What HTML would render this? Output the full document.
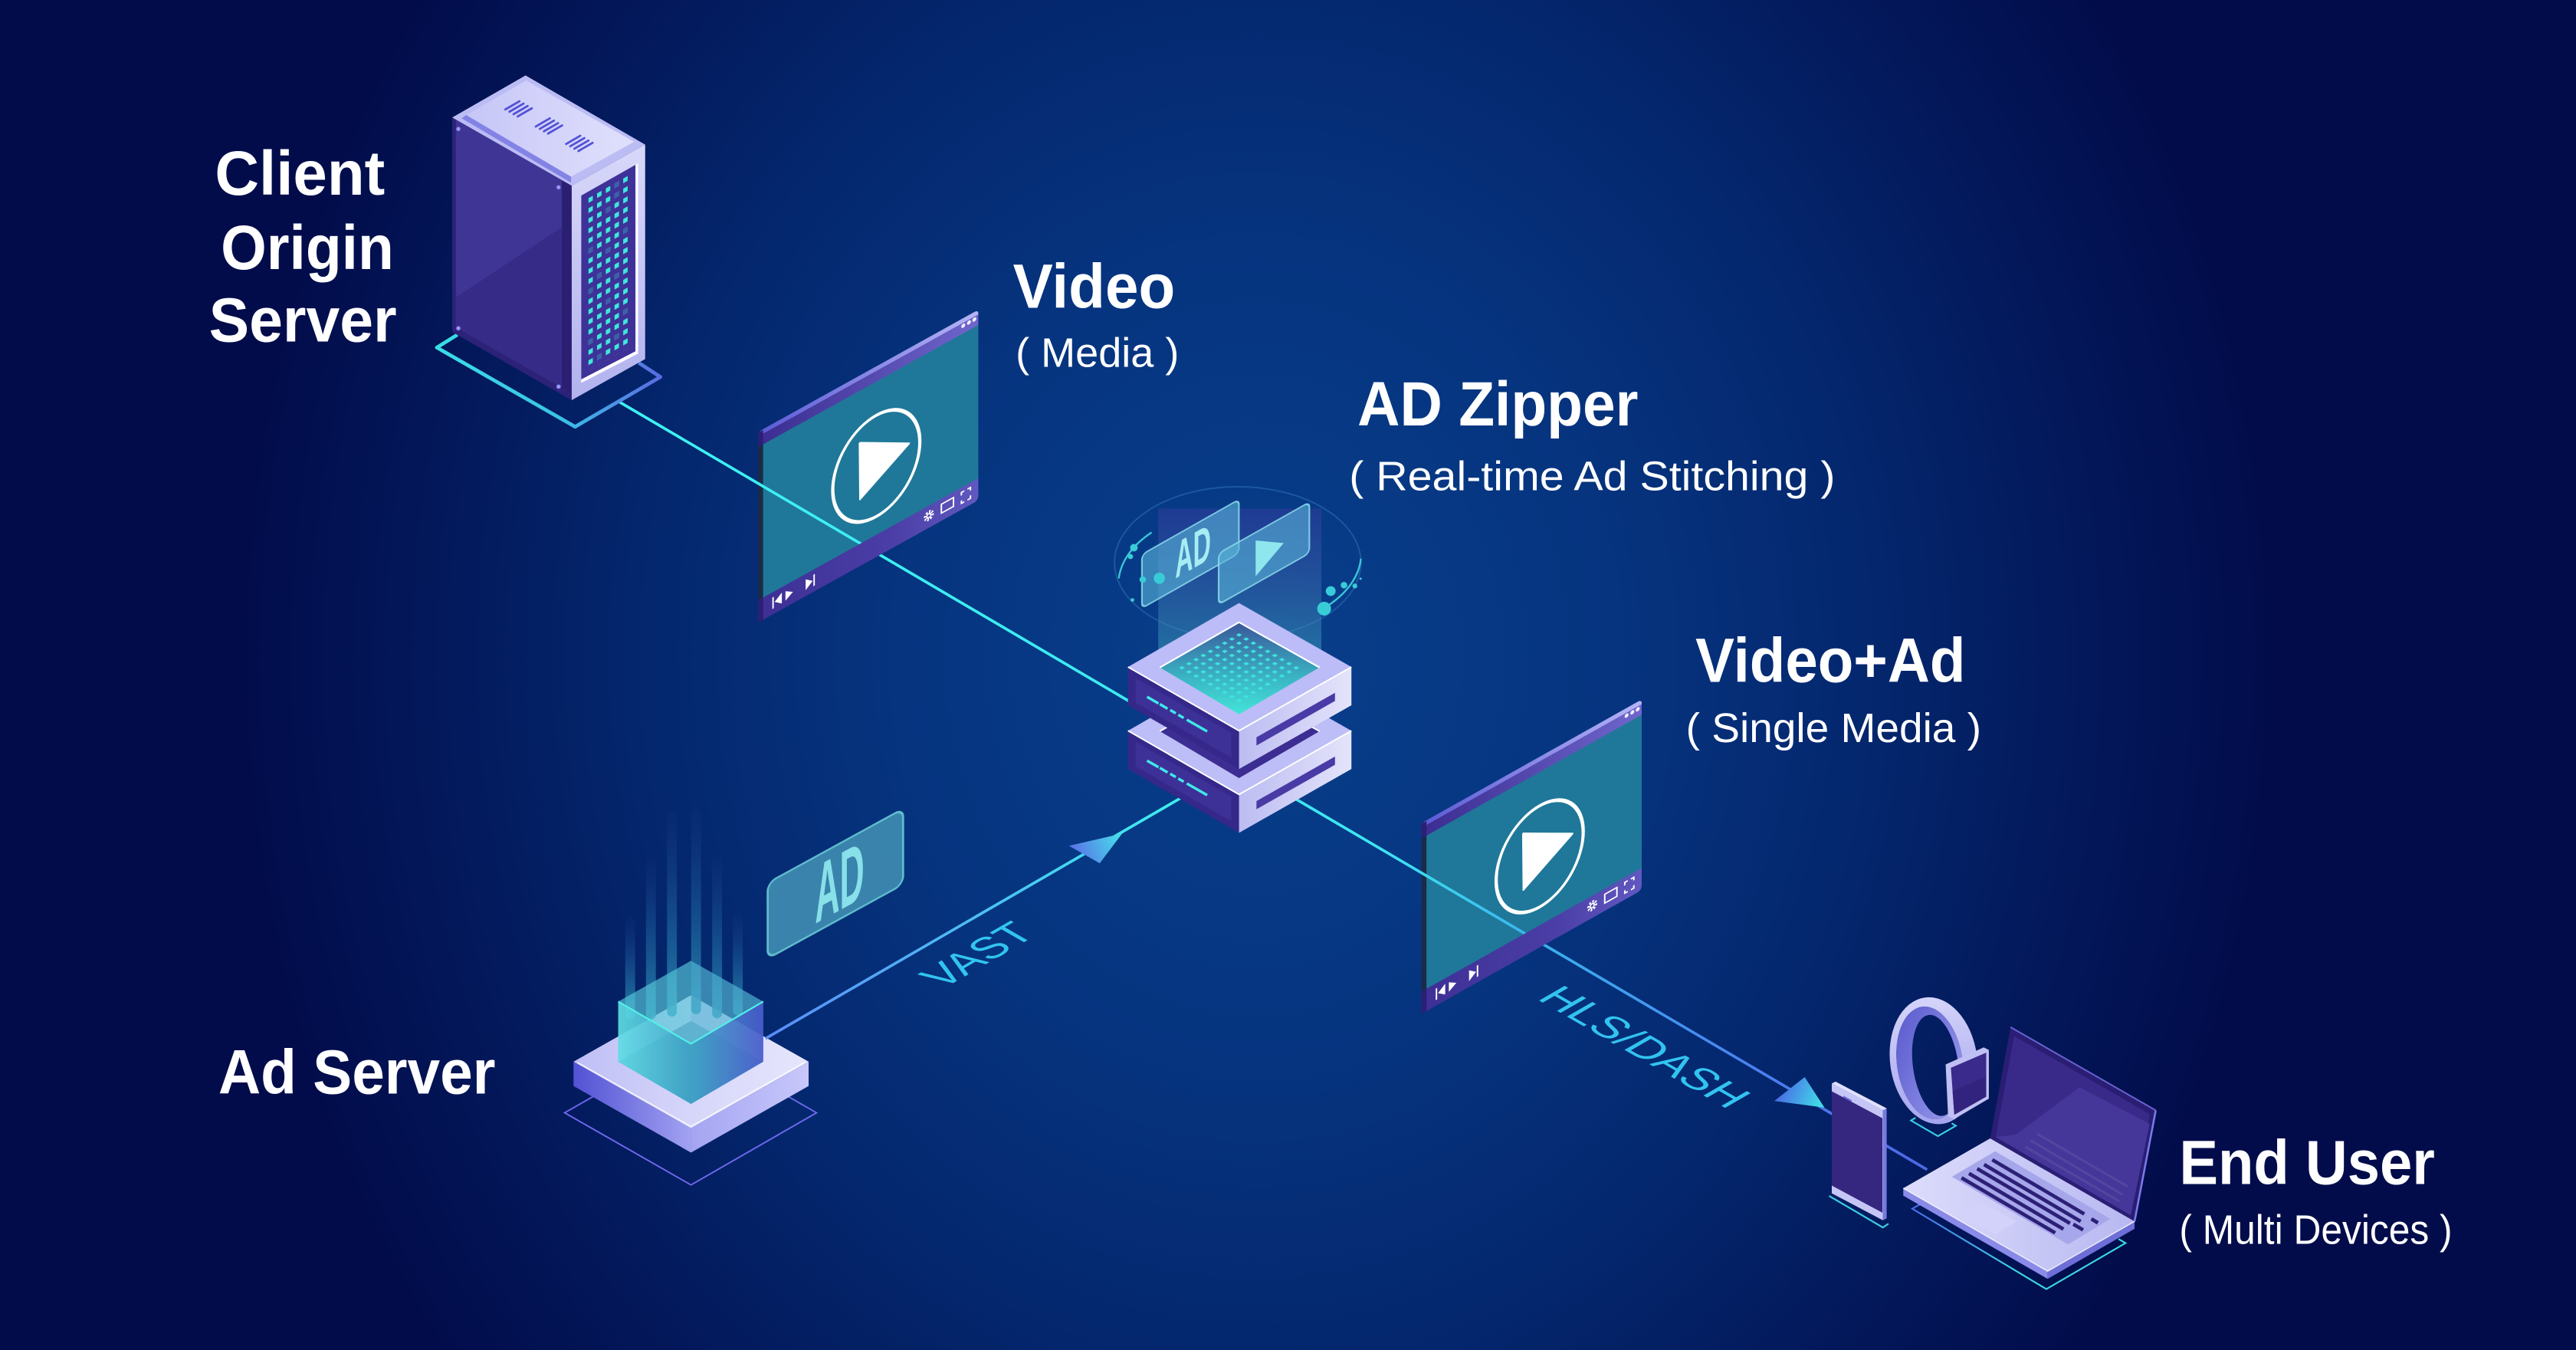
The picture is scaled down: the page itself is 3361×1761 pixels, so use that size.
<!DOCTYPE html>
<html><head><meta charset="utf-8">
<style>
html,body{margin:0;padding:0;background:#020b4a;overflow:hidden;}
svg{display:block;}
text{font-family:"Liberation Sans",Arial,sans-serif;}
</style></head><body>
<svg width="3361" height="1761" viewBox="0 0 1568 821.56" preserveAspectRatio="none" xmlns="http://www.w3.org/2000/svg">
<defs>
 <radialGradient id="bg" gradientUnits="userSpaceOnUse" cx="765" cy="400" r="620" gradientTransform="translate(765 400) scale(1 1.15) translate(-765 -400)">
  <stop offset="0" stop-color="#083f8b"/>
  <stop offset="0.35" stop-color="#06347f"/>
  <stop offset="0.6" stop-color="#04276e"/>
  <stop offset="0.8" stop-color="#03195b"/>
  <stop offset="1" stop-color="#020c4b"/>
 </radialGradient>
 <linearGradient id="l1" gradientUnits="userSpaceOnUse" x1="376" y1="244" x2="1175" y2="713">
  <stop offset="0" stop-color="#3ef2f2"/>
  <stop offset="0.58" stop-color="#3ee6f2"/>
  <stop offset="0.7" stop-color="#3ab2ee"/>
  <stop offset="0.86" stop-color="#4a82f0"/>
  <stop offset="1" stop-color="#4f66e6"/>
 </linearGradient>
 <linearGradient id="lv" gradientUnits="userSpaceOnUse" x1="466" y1="632" x2="718" y2="486">
  <stop offset="0" stop-color="#5a8cf8"/>
  <stop offset="1" stop-color="#3ef0f0"/>
 </linearGradient>
 <linearGradient id="av" gradientUnits="userSpaceOnUse" x1="652" y1="520" x2="683" y2="507">
  <stop offset="0" stop-color="#5a6ee8"/>
  <stop offset="1" stop-color="#45e4ea"/>
 </linearGradient>
 <linearGradient id="ah" gradientUnits="userSpaceOnUse" x1="1082" y1="663" x2="1110" y2="674">
  <stop offset="0" stop-color="#4a66e6"/>
  <stop offset="1" stop-color="#40e8e6"/>
 </linearGradient>
 <linearGradient id="tbar" x1="0" y1="0" x2="1" y2="0">
  <stop offset="0" stop-color="#3a2c90"/><stop offset="1" stop-color="#6f66cc"/>
 </linearGradient>
 <linearGradient id="tbarhi" x1="0" y1="0" x2="1" y2="0">
  <stop offset="0" stop-color="#5a5ad6"/><stop offset="1" stop-color="#b4b4f6"/>
 </linearGradient>
 <linearGradient id="bbar" x1="0" y1="0" x2="1" y2="0">
  <stop offset="0" stop-color="#3d2f94"/><stop offset="0.6" stop-color="#4a3ea6"/><stop offset="1" stop-color="#6058c0"/>
 </linearGradient>
 <linearGradient id="tob" x1="0" y1="0" x2="1" y2="0">
  <stop offset="0" stop-color="#3adde6"/><stop offset="0.55" stop-color="#3ac4e6"/><stop offset="1" stop-color="#5a6ae2"/>
 </linearGradient>
 <linearGradient id="ttop" x1="0" y1="0" x2="1" y2="0">
  <stop offset="0" stop-color="#c6c6f8"/><stop offset="1" stop-color="#e0e0fc"/>
 </linearGradient>
 <linearGradient id="trf" x1="0" y1="0" x2="0" y2="1">
  <stop offset="0" stop-color="#d8d8fa"/><stop offset="1" stop-color="#b2b2ee"/>
 </linearGradient>
 <linearGradient id="zr" x1="0" y1="0" x2="1" y2="0">
  <stop offset="0" stop-color="#bcbcf2"/><stop offset="1" stop-color="#e4e4fb"/>
 </linearGradient>
 <linearGradient id="zin" x1="0" y1="0" x2="0" y2="1">
  <stop offset="0" stop-color="#3a569a"/><stop offset="0.6" stop-color="#3ab4c4"/><stop offset="1" stop-color="#44e4d8"/>
 </linearGradient>
 <linearGradient id="col" x1="0" y1="0" x2="0" y2="1">
  <stop offset="0" stop-color="#4a3caa" stop-opacity="0.35"/>
  <stop offset="1" stop-color="#3ab8c0" stop-opacity="0.55"/>
 </linearGradient>
 <linearGradient id="pt" x1="0" y1="0" x2="1" y2="0">
  <stop offset="0" stop-color="#bebef6"/><stop offset="0.5" stop-color="#d6d6fa"/><stop offset="1" stop-color="#e6e6fd"/>
 </linearGradient>
 <linearGradient id="pl" x1="0" y1="0" x2="1" y2="0">
  <stop offset="0" stop-color="#5252d4"/><stop offset="1" stop-color="#a2a2f2"/>
 </linearGradient>
 <linearGradient id="pr" x1="0" y1="0" x2="1" y2="0">
  <stop offset="0" stop-color="#a4a4f2"/><stop offset="1" stop-color="#c8c8fb"/>
 </linearGradient>
 <linearGradient id="stk" x1="0" y1="0" x2="0" y2="1">
  <stop offset="0" stop-color="#1a3a8a" stop-opacity="0.1"/>
  <stop offset="0.45" stop-color="#1a5a98" stop-opacity="0.6"/>
  <stop offset="1" stop-color="#2a90b4" stop-opacity="0.9"/>
 </linearGradient>
 <linearGradient id="cl" x1="0" y1="0" x2="1" y2="0">
  <stop offset="0" stop-color="#60e0e6"/><stop offset="1" stop-color="#3aa0c4"/>
 </linearGradient>
 <linearGradient id="cr" x1="0" y1="0" x2="1" y2="0">
  <stop offset="0" stop-color="#3aa4c4"/><stop offset="1" stop-color="#4a58cc"/>
 </linearGradient>
 <linearGradient id="lbt" x1="0" y1="0" x2="1" y2="0">
  <stop offset="0" stop-color="#dcdcfb"/><stop offset="1" stop-color="#b8b8f2"/>
 </linearGradient>
 <linearGradient id="lob" x1="0" y1="0" x2="1" y2="0">
  <stop offset="0" stop-color="#4a6ae6"/><stop offset="0.5" stop-color="#3ad8e0"/><stop offset="1" stop-color="#3ad8e0"/>
 </linearGradient>
 <linearGradient id="wb" x1="0" y1="0" x2="0" y2="1">
  <stop offset="0" stop-color="#d4d4fa"/><stop offset="1" stop-color="#a4a4ee"/>
 </linearGradient>
 <linearGradient id="wi" x1="0" y1="0" x2="1" y2="1">
  <stop offset="0" stop-color="#5656cc"/><stop offset="1" stop-color="#a0a0f0"/>
 </linearGradient>
 <pattern id="sq" patternUnits="userSpaceOnUse" x="-1.35" y="-1.45" width="5.3" height="6.17">
  <rect width="2.7" height="2.9" fill="#3de8dc"/>
 </pattern>
 <pattern id="zdots" patternUnits="userSpaceOnUse" x="749.85" y="383.9" width="8.7" height="5">
  <polygon points="2.55,2.5 4.35,1.45 6.15,2.5 4.35,3.55" fill="#3ee4e0"/>
  <polygon points="-1.8,0 0,-1.05 1.8,0 0,1.05" fill="#3ee4e0"/>
  <polygon points="6.9,0 8.7,-1.05 10.5,0 8.7,1.05" fill="#3ee4e0"/>
  <polygon points="-1.8,5 0,3.95 1.8,5 0,6.05" fill="#3ee4e0"/>
  <polygon points="6.9,5 8.7,3.95 10.5,5 8.7,6.05" fill="#3ee4e0"/>
 </pattern>
 <g id="pback">
  <rect x="0" y="0" width="3" height="116" fill="#1b2b47"/>
  <rect x="3" y="8" width="131" height="96" fill="#1f7899"/>
 </g>
 <g id="pfront">
  <path d="M0,2.5 Q0,0 2.5,0 H131.5 Q134,0 134,2.5 V9.3 H0 Z" fill="url(#tbar)"/>
  <path d="M0,2.5 Q0,0 2.5,0 H131.5 Q134,0 134,2.5 V2.8 H0 Z" fill="url(#tbarhi)"/>
  <rect x="0" y="0.5" width="3" height="8.8" fill="#2b2074"/>
  <path d="M0,102.5 H134 V113 Q134,116 131,116 H3 Q0,116 0,113 Z" fill="url(#bbar)"/>
  <rect x="0" y="102.5" width="3" height="13.5" fill="#2b2074"/>
  <ellipse cx="71.9" cy="60.6" rx="26.5" ry="30.8" fill="none" stroke="#ffffff" stroke-width="2"/>
  <polygon points="61.8,41.1 91.8,58.1 62.1,75.4" fill="#ffffff" stroke="#ffffff" stroke-width="1.2" stroke-linejoin="round"/>
  <circle cx="124.8" cy="4.6" r="1.2" fill="#eeeeff"/>
  <circle cx="128.3" cy="4.6" r="1.2" fill="#eeeeff"/>
  <circle cx="131.6" cy="4.6" r="1.2" fill="#eeeeff"/>
  <g fill="#ffffff" stroke="#ffffff">
   <rect x="8.6" y="105.6" width="0.9" height="7" stroke="none"/>
   <polygon points="14.4,105.8 14.4,112.4 10,109.1" stroke="none"/>
   <polygon points="16.6,106.2 16.6,112 21.2,109.1" stroke="none"/>
   <polygon points="28.9,105.8 28.9,112.4 33.2,109.1" stroke="none"/>
   <rect x="33.6" y="105.6" width="0.9" height="7" stroke="none"/>
   <circle cx="103.9" cy="108.6" r="2.3" fill="none" stroke-width="1.6" stroke-dasharray="1,0.8"/>
   <circle cx="103.9" cy="108.6" r="1.2" fill="none" stroke-width="0.8"/>
   <rect x="111.5" y="105.9" width="7.4" height="5.4" fill="none" stroke-width="0.9"/>
   <path d="M123.7,107.3 v-1.8 h1.8 M127.4,105.5 h1.8 v1.8 M129.2,110.3 v1.8 h-1.8 M125.5,112.1 h-1.8 v-1.8" fill="none" stroke-width="0.9"/>
  </g>
 </g>
</defs>

<rect width="1568" height="821.56" fill="#020a48"/>
<rect width="1568" height="821.56" fill="url(#bg)"/>

<!-- ============ AD SERVER ============ -->
<polygon points="343.7,677.2 420.6,633.3 497,677.2 420.6,721.1" fill="none" stroke="#6f68ec" stroke-width="0.9"/>
<polygon points="349.1,646.1 420.6,686.6 420.6,701.4 349.1,660.9" fill="url(#pl)"/>
<polygon points="420.6,686.6 492.2,646.1 492.2,660.9 420.6,701.4" fill="url(#pr)"/>
<polygon points="349.1,646.1 420.6,605.7 492.2,646.1 420.6,686.6" fill="url(#pt)"/>
<polyline points="351.5,646.6 420.6,685.6 489.8,646.6" fill="none" stroke="#ffffff" stroke-width="0.8" stroke-opacity="0.8"/>
<!-- streaks -->
<g fill="url(#stk)">
 <rect x="380.6" y="558.3" width="6" height="62" rx="3"/>
 <rect x="393.2" y="522.5" width="6" height="98" rx="3"/>
 <rect x="406" y="493.7" width="6" height="125" rx="3"/>
 <rect x="420.7" y="492.2" width="6" height="125" rx="3"/>
 <rect x="433.5" y="521.7" width="6" height="98" rx="3"/>
 <rect x="446.1" y="555.9" width="6" height="62" rx="3"/>
</g>
<!-- cube -->
<polygon points="376.3,609.5 420.6,584.7 420.6,621.3 376.3,646.1" fill="#49b8d0" fill-opacity="0.45"/>
<polygon points="420.6,584.7 464.6,609.5 464.6,646.1 420.6,621.3" fill="#3f8fc4" fill-opacity="0.45"/>
<polygon points="420.6,621.3 464.6,646.1 420.6,671.8 376.3,646.1" fill="#2e86b0" fill-opacity="0.7"/>
<polygon points="376.3,609.5 420.6,635.2 420.6,671.8 376.3,646.1" fill="url(#cl)" fill-opacity="0.85"/>
<polygon points="420.6,635.2 464.6,609.5 464.6,646.1 420.6,671.8" fill="url(#cr)" fill-opacity="0.88"/>
<polygon points="420.6,584.7 464.6,609.5 420.6,635.2 376.3,609.5" fill="#5ed0de" fill-opacity="0.4"/>
<polyline points="376.3,609.5 420.6,635.2 464.6,609.5" fill="none" stroke="#52f0e8" stroke-width="1"/>
<!-- AD card -->
<g transform="translate(467.3,537.3) skewY(-28.7)">
 <rect x="0" y="0" width="82.4" height="46" rx="5" fill="#3f8db2" fill-opacity="0.9" stroke="#5fbccd" stroke-width="1.3"/>
 <text x="28.8" y="40.7" font-size="50" font-weight="bold" fill="#88e0e8" textLength="30" lengthAdjust="spacingAndGlyphs">AD</text>
</g>

<!-- ============ SCREENS BACK ============ -->
<use href="#pback" transform="translate(461.5,262.8) skewY(-29)"/>
<use href="#pback" transform="translate(865.3,500.9) skewY(-29.3)"/>

<!-- ============ LINES ============ -->
<line x1="376.3" y1="244.2" x2="1173" y2="711.8" stroke="url(#l1)" stroke-width="1.7"/>
<line x1="466" y1="632" x2="725" y2="482" stroke="url(#lv)" stroke-width="1.7"/>
<polygon points="650.6,514.7 683,507.3 669.4,525.4" fill="url(#av)"/>
<polygon points="1080,670 1098.5,655.5 1110.5,674" fill="url(#ah)"/>

<!-- ============ SCREENS FRONT ============ -->
<use href="#pfront" transform="translate(461.5,262.8) skewY(-29)"/>
<use href="#pfront" transform="translate(865.3,500.9) skewY(-29.3)"/>

<!-- ============ TOWER ============ -->
<polyline points="278.4,203.7 265.9,211.5 350.1,259.7 402,229.4 388.8,220.8" fill="none" stroke="url(#tob)" stroke-width="2.2" stroke-linejoin="round"/>
<polygon points="275.3,71.5 348,113 348,243.5 275.3,202" fill="#372b88"/>
<polygon points="275.3,71.5 348,113 348,134.3 275.3,182.4" fill="#3f3595"/>
<polygon points="275.3,71.5 277.5,72.8 277.5,203.3 275.3,202" fill="#2c2278"/>
<polygon points="342,109.6 348,113 348,243.5 342,240" fill="#2a1f72"/>
<polygon points="275.3,198 348,239.5 348,243.5 275.3,202" fill="#2c2278"/>
<g fill="#9c9cf2" stroke="#5a50c8" stroke-width="0.4">
 <circle cx="279" cy="78.5" r="1.3"/><circle cx="340" cy="114" r="1.3"/>
 <circle cx="279" cy="199.8" r="1.3"/><circle cx="340" cy="235.3" r="1.3"/>
</g>
<polygon points="319.9,45.9 392.7,88 348,113 275.3,71.5" fill="#bcbcf4"/>
<polygon points="283.8,70 347.6,107.5 347.6,111.2 281,72" fill="#8383e6"/>
<polygon points="320.3,49 386,86.3 347.6,107.5 283.8,70" fill="url(#ttop)"/>
<g stroke="#5252d6" stroke-width="1.3" stroke-linecap="round">
 <line x1="307.6" y1="66.6" x2="316.2" y2="61.6"/><line x1="310.1" y1="68" x2="318.7" y2="63"/>
 <line x1="312.6" y1="69.5" x2="321.2" y2="64.5"/><line x1="315.1" y1="70.9" x2="323.7" y2="65.9"/>
 <line x1="326.1" y1="77" x2="334.7" y2="72"/><line x1="328.6" y1="78.4" x2="337.2" y2="73.4"/>
 <line x1="331.1" y1="79.9" x2="339.7" y2="74.9"/><line x1="333.6" y1="81.3" x2="342.2" y2="76.3"/>
 <line x1="344.6" y1="87.6" x2="353.2" y2="82.6"/><line x1="347.1" y1="89" x2="355.7" y2="84"/>
 <line x1="349.6" y1="90.5" x2="358.2" y2="85.5"/><line x1="352.1" y1="91.9" x2="360.7" y2="86.9"/>
</g>
<polygon points="348,113 392.7,88 392.7,218.5 348,243.5" fill="url(#trf)"/>
<polygon points="353.8,119 388.4,99.4 388.4,215.2 353.8,233" fill="#ffffff"/>
<polygon points="353.8,119 386.8,100.3 386.8,213.8 353.8,230.9" fill="#3e3298"/>
<g transform="translate(359.5,121.3) skewY(-29.5)">
 <rect x="-1.35" y="-1.45" width="26.5" height="104.9" fill="url(#sq)"/>
 <g fill="#3a62a8">
  <rect x="14.55" y="-1.45" width="2.7" height="2.9"/>
  <rect x="14.55" y="4.72" width="2.7" height="2.9"/>
  <rect x="9.25" y="10.89" width="2.7" height="2.9"/>
  <rect x="19.85" y="29.4" width="2.7" height="2.9"/>
  <rect x="-1.35" y="29.4" width="2.7" height="2.9"/>
  <rect x="9.25" y="35.57" width="2.7" height="2.9"/>
  <rect x="3.95" y="47.91" width="2.7" height="2.9"/>
  <rect x="14.55" y="54.08" width="2.7" height="2.9"/>
  <rect x="-1.35" y="54.08" width="2.7" height="2.9"/>
  <rect x="9.25" y="66.42" width="2.7" height="2.9"/>
  <rect x="19.85" y="78.76" width="2.7" height="2.9"/>
  <rect x="-1.35" y="84.93" width="2.7" height="2.9"/>
  <rect x="14.55" y="91.1" width="2.7" height="2.9"/>
  <rect x="3.95" y="97.27" width="2.7" height="2.9"/>
 </g>
</g>

<!-- ============ AD ZIPPER ============ -->
<ellipse cx="753.4" cy="342.4" rx="75" ry="46.2" fill="none" stroke="#2a6cb0" stroke-opacity="0.6" stroke-width="0.9"/>
<path d="M701,324 A75,46.2 0 0 0 681,352" fill="none" stroke="#3ac8d8" stroke-width="1.1"/>
<path d="M828.4,340 A75,46.2 0 0 1 806,370" fill="none" stroke="#3ac8d8" stroke-width="1.1"/>
<rect x="705" y="309.5" width="99.3" height="110" fill="url(#col)"/>
<g transform="translate(695.1,337.4) skewY(-29.5)">
 <rect x="0" y="0" width="59" height="32.7" rx="3" fill="#5ab4d8" fill-opacity="0.6" stroke="#8cdcec" stroke-opacity="0.85" stroke-width="1"/>
 <text x="20.2" y="26.2" font-size="31" font-weight="bold" fill="#a6ecf2" textLength="21.8" lengthAdjust="spacingAndGlyphs">AD</text>
</g>
<g transform="translate(741.8,336.7) skewY(-29.4)">
 <rect x="0" y="0" width="55.2" height="31.1" rx="3" fill="#5ab4d8" fill-opacity="0.6" stroke="#8cdcec" stroke-opacity="0.85" stroke-width="1"/>
 <polygon points="22.5,4.9 39.6,16.1 22.5,26.7" fill="#8fe6ee"/>
</g>
<g fill="#38ccd8">
 <circle cx="690.2" cy="333.3" r="2.3"/><circle cx="688.1" cy="338.7" r="1.6"/>
 <circle cx="695.6" cy="352.7" r="2"/><circle cx="705.7" cy="351.9" r="3.4"/>
 <circle cx="689.3" cy="365.1" r="1.1"/>
 <circle cx="810" cy="359.7" r="3"/><circle cx="818.1" cy="356.1" r="2"/>
 <circle cx="824.7" cy="356.6" r="1.5"/><circle cx="828.2" cy="352.2" r="0.7"/>
 <circle cx="806" cy="370.4" r="4.2"/>
</g>
<!-- lower block -->
<polygon points="754.2,405.8 822.6,444.7 754.2,483.5 686.6,444.7" fill="#bdbdf7"/>
<polygon points="754.2,417.5 803.2,445 754.2,473.5 706,445" fill="#3b2d92"/>
<polyline points="706,445 754.2,417.5 803.2,445" fill="none" stroke="#ffffff" stroke-width="0.9"/>
<polygon points="686.6,444.7 754.2,483.5 754.2,506.8 686.6,468" fill="#35288a"/>
<polygon points="691.3,451.4 749.5,484.8 749.5,499.8 691.3,466.4" fill="#3d3198"/>
<g stroke="#40e8e8" stroke-width="1.6">
 <line x1="698.2" y1="462.9" x2="705.2" y2="466.9"/><line x1="706" y1="467.3" x2="710.7" y2="470.1"/>
 <line x1="712.3" y1="470.9" x2="715.7" y2="472.9"/><line x1="717.2" y1="473.8" x2="720.5" y2="475.7"/>
 <line x1="722.4" y1="476.8" x2="734.8" y2="483.9"/>
</g>
<polygon points="754.2,483.5 822.6,444.7 822.6,468 754.2,506.8" fill="url(#zr)"/>
<polygon points="764.8,487.5 812.6,460.4 812.6,465.4 764.8,492.5" fill="#4a3aa6"/>
<polyline points="686.6,444.7 754.2,483.5 822.6,444.7" fill="none" stroke="#ffffff" stroke-width="0.9"/>
<!-- top block -->
<polygon points="686.6,405.9 754.2,444.7 754.2,468 686.6,429.2" fill="#35288a"/>
<polygon points="691.3,412.6 749.5,446 749.5,461 691.3,427.6" fill="#3d3198"/>
<g stroke="#40e8e8" stroke-width="1.6">
 <line x1="698.2" y1="424.1" x2="705.2" y2="428.1"/><line x1="706" y1="428.5" x2="710.7" y2="431.3"/>
 <line x1="712.3" y1="432.1" x2="715.7" y2="434.1"/><line x1="717.2" y1="435" x2="720.5" y2="436.9"/>
 <line x1="722.4" y1="438" x2="734.8" y2="445.1"/>
</g>
<polygon points="754.2,444.7 822.6,405.9 822.6,429.2 754.2,468" fill="url(#zr)"/>
<polygon points="764.8,448.7 812.6,421.6 812.6,426.6 764.8,453.7" fill="#4a3aa6"/>
<polygon points="754.2,367 822.6,405.9 754.2,444.7 686.6,405.9" fill="#bcbcf8"/>
<polygon points="754.2,378.7 803.2,406.2 754.2,434.7 706,406.2" fill="url(#zin)"/>
<polygon points="754.2,384 796,406.3 754.2,430.2 712.4,406.3" fill="url(#zdots)"/>
<polyline points="706,406.2 754.2,378.7 803.2,406.2" fill="none" stroke="#ffffff" stroke-width="1"/>
<polyline points="686.6,405.9 754.2,444.7 822.6,405.9" fill="none" stroke="#ffffff" stroke-width="0.9"/>

<!-- ============ DEVICES ============ -->
<polyline points="1169,732.7 1164,735.6 1245.6,784.5 1293.8,756.5 1289.5,754" fill="none" stroke="url(#lob)" stroke-width="1"/>
<polyline points="1166,680.2 1163.2,681.9 1179.6,691.4 1190.5,685.1 1188,683.6" fill="none" stroke="#3ad0e0" stroke-width="1"/>
<polyline points="1113.4,727.8 1146.1,747 1149.5,744.7" fill="none" stroke="#3ad0e0" stroke-width="1"/>
<!-- phone -->
<polygon points="1146.1,675.7 1148.4,674.5 1148.4,741.5 1146.1,742.6" fill="#7878e0"/>
<polygon points="1115,659.4 1117.3,658.2 1148.4,674.5 1146.1,675.7" fill="#e0e0fc"/>
<polygon points="1115,659.4 1146.1,675.7 1146.1,742.6 1115,726.2" fill="#c6c6f6"/>
<polygon points="1115,664.1 1145.8,680.5 1145.8,738 1115,721.5" fill="#35267f"/>
<line x1="1122" y1="667.3" x2="1127" y2="670" stroke="#6a6ad8" stroke-width="1"/>
<!-- watch -->
<g transform="translate(1177,645.5) rotate(-8)">
 <path fill-rule="evenodd" fill="url(#wb)" d="M-26.5,0 A26.5,38.8 0 1 0 26.5,0 A26.5,38.8 0 1 0 -26.5,0 Z M-22.5,1 A20,34.5 0 1 0 17.5,1 A20,34.5 0 1 0 -22.5,1 Z"/>
 <path fill-rule="evenodd" fill="url(#wi)" d="M-22.5,1 A20,34.5 0 1 0 17.5,1 A20,34.5 0 1 0 -22.5,1 Z M-13,3 A13.8,31 0 1 0 14.6,3 A13.8,31 0 1 0 -13,3 Z"/>
</g>
<polygon points="1184.3,647.8 1207.5,637.4 1210.6,639 1210.6,668.6 1189.5,681 1185.8,679.3" fill="#c0c0f4"/>
<polygon points="1187.5,649.8 1209,640.6 1209,667.4 1189.6,678.4" fill="#3a2a8c"/>
<polygon points="1188.5,664 1209,655 1209,667.4 1189.6,678.4" fill="#32247e"/>
<!-- laptop -->
<polygon points="1223.8,625.1 1312.2,675.7 1299.3,743.3 1211.4,692.8" fill="#2a1e74"/>
<polygon points="1226,630.5 1308.5,678 1296.8,739.5 1214.8,692" fill="#392a8a"/>
<polygon points="1227,690.5 1265.8,661.7 1308.5,684 1297,739.5 1214.8,692" fill="#45379a"/>
<g stroke="#52469f" stroke-width="1.4">
 <line x1="1240" y1="690" x2="1295" y2="722"/><line x1="1236" y1="694" x2="1292" y2="727"/>
 <line x1="1233" y1="698" x2="1290" y2="731"/>
</g>
<line x1="1312.2" y1="675.7" x2="1299.3" y2="743.3" stroke="#7a7aea" stroke-width="1.2"/>
<line x1="1223.8" y1="625.1" x2="1312.2" y2="675.7" stroke="#6a62d0" stroke-width="0.9"/>
<polygon points="1158.5,723.1 1246.4,773.6 1246.4,778.3 1158.5,727.6" fill="#8a8ae8"/>
<polygon points="1246.4,773.6 1299.3,743.3 1299.3,747.8 1246.4,778.3" fill="#6e6ed8"/>
<polygon points="1211.4,692.8 1299.3,743.3 1246.4,773.6 1158.5,723.1" fill="url(#lbt)"/>
<polyline points="1158.5,723.1 1246.4,773.6 1299.3,743.3" fill="none" stroke="#ffffff" stroke-width="0.7" stroke-opacity="0.8"/>
<polygon points="1188.1,716.1 1214.5,700.6 1284.5,741.8 1258.8,757.3" fill="#a6a6ea"/>
<g stroke="#2c1f76" stroke-width="2.2">
 <line x1="1212.7" y1="705.8" x2="1268.7" y2="738.8"/>
 <line x1="1207.7" y1="708.7" x2="1266.5" y2="743.3"/>
 <line x1="1203.5" y1="711.2" x2="1260" y2="744.5"/>
 <line x1="1198.5" y1="714.1" x2="1256" y2="748"/>
 <line x1="1194" y1="716.8" x2="1251" y2="750.3"/>
 <line x1="1273" y1="741.8" x2="1277" y2="744.2"/>
 <line x1="1262" y1="745" x2="1268" y2="748.5"/>
</g>
<polygon points="1192,739.4 1205.2,731.7 1227.7,743.3 1214.5,751.1" fill="#d2d2fa"/>

<!-- ============ LABELS ============ -->
<g fill="#ffffff" font-weight="bold" font-size="38">
 <text x="130.8" y="118.5" textLength="103.5" lengthAdjust="spacingAndGlyphs">Client</text>
 <text x="134.4" y="163.8" textLength="105.3" lengthAdjust="spacingAndGlyphs">Origin</text>
 <text x="127.2" y="207.8" textLength="114.3" lengthAdjust="spacingAndGlyphs">Server</text>
 <text x="616.6" y="187.4" textLength="98.7" lengthAdjust="spacingAndGlyphs">Video</text>
 <text x="826.3" y="258.9" textLength="170.9" lengthAdjust="spacingAndGlyphs">AD Zipper</text>
 <text x="1032" y="415" textLength="164.4" lengthAdjust="spacingAndGlyphs">Video+Ad</text>
 <text x="132.9" y="665.6" textLength="168.7" lengthAdjust="spacingAndGlyphs">Ad Server</text>
 <text x="1326.5" y="720.5" textLength="155.6" lengthAdjust="spacingAndGlyphs">End User</text>
</g>
<g fill="#ffffff" font-size="25">
 <text x="618.2" y="223.2" textLength="99.5" lengthAdjust="spacingAndGlyphs">( Media )</text>
 <text x="821.2" y="298.4" textLength="295.9" lengthAdjust="spacingAndGlyphs">( Real-time Ad Stitching )</text>
 <text x="1026.2" y="451.5" textLength="179.8" lengthAdjust="spacingAndGlyphs">( Single Media )</text>
 <text x="1326.5" y="757" textLength="166.2" lengthAdjust="spacingAndGlyphs">( Multi Devices )</text>
</g>
<text transform="matrix(0.866,-0.5,0.866,0.5,573.8,602)" x="0" y="0" font-size="26" fill="#32c4f0" textLength="66.4" lengthAdjust="spacingAndGlyphs">VAST</text>
<text transform="matrix(0.866,0.5,-0.866,0.5,935,607.8)" x="0" y="0" font-size="26" fill="#32c4f0" textLength="135" lengthAdjust="spacingAndGlyphs">HLS/DASH</text>
</svg>
</body></html>
